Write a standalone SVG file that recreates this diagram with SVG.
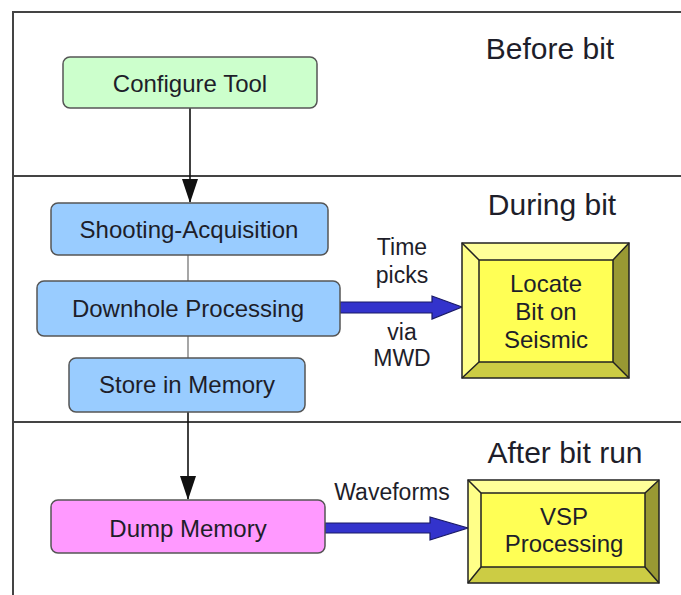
<svg xmlns="http://www.w3.org/2000/svg" width="681" height="595" viewBox="0 0 681 595">
  <style>
    .frame { stroke: #444; stroke-width: 2; fill: none; }
    .box { stroke: #555; stroke-width: 1.5; }
    .txt { font-family: "Liberation Sans", Arial, sans-serif; fill: #1e1e2a; text-anchor: middle; }
    .node { font-size: 24px; }
    .head { font-size: 30px; }
    .lbl { font-size: 23px; }
    .flow { stroke: #111; stroke-width: 1.6; fill: none; }
    .link { stroke: #777; stroke-width: 1.3; fill: none; }
    .fat { fill: #3333cc; stroke: #1a1a66; stroke-width: 1.2; }
    .bev-top { fill: #ffff99; }
    .bev-left { fill: #ffff88; }
    .bev-right { fill: #999933; }
    .bev-bottom { fill: #cccc44; }
    .bev-face { fill: #ffff55; stroke: #222; stroke-width: 1.5; }
    .bev-edge { stroke: #222; stroke-width: 1.5; fill: none; }
  </style>
  <defs>
    <marker id="arrow" markerWidth="24" markerHeight="16" refX="23" refY="8" orient="auto" markerUnits="userSpaceOnUse" viewBox="0 0 24 16">
      <path d="M0,0 L24,8 L0,16 Z" fill="#111"/>
    </marker>
  </defs>
  <rect width="681" height="595" fill="#fff"/>

  <!-- phase bands -->
  <g id="frame">
    <path class="frame" d="M13,595 L13,12 L681,12"/>
    <line class="frame" x1="13" y1="176" x2="681" y2="176"/>
    <line class="frame" x1="13" y1="422" x2="681" y2="422"/>
    <text class="txt head" x="550" y="59">Before bit</text>
    <text class="txt head" x="552" y="215">During bit</text>
    <text class="txt head" x="565" y="463">After bit run</text>
  </g>

  <!-- connectors -->
  <g id="connectors">
    <line class="flow" x1="190" y1="108" x2="190" y2="202" marker-end="url(#arrow)"/>
    <line class="link" x1="188" y1="255" x2="188" y2="281"/>
    <line class="link" x1="188" y1="336" x2="188" y2="358"/>
    <line class="flow" x1="188" y1="412" x2="188" y2="499" marker-end="url(#arrow)"/>
    <path class="fat" d="M340,302 L432,302 L432,296 L462,307 L432,319 L432,313 L340,313 Z"/>
    <path class="fat" d="M325,523 L430,523 L430,517 L468,528 L430,540 L430,533 L325,533 Z"/>
    <text class="txt lbl" x="402" y="255">Time</text>
    <text class="txt lbl" x="402" y="283">picks</text>
    <text class="txt lbl" x="402" y="340">via</text>
    <text class="txt lbl" x="402" y="366">MWD</text>
    <text class="txt lbl" x="392" y="500">Waveforms</text>
  </g>

  <g id="configure-tool">
    <rect class="box" x="63" y="57" width="254" height="51" rx="7" fill="#ccffcc"/>
    <text class="txt node" x="190" y="92">Configure Tool</text>
  </g>

  <g id="shooting-acquisition">
    <rect class="box" x="51" y="203" width="277" height="52" rx="7" fill="#99ccff"/>
    <text class="txt node" x="189" y="238">Shooting-Acquisition</text>
  </g>

  <g id="downhole-processing">
    <rect class="box" x="37" y="281" width="303" height="55" rx="7" fill="#99ccff"/>
    <text class="txt node" x="188" y="317">Downhole Processing</text>
  </g>

  <g id="store-in-memory">
    <rect class="box" x="69" y="358" width="236" height="54" rx="7" fill="#99ccff"/>
    <text class="txt node" x="187" y="393">Store in Memory</text>
  </g>

  <g id="dump-memory">
    <rect class="box" x="51" y="500" width="274" height="53" rx="7" fill="#ff99ff"/>
    <text class="txt node" x="188" y="537">Dump Memory</text>
  </g>

  <g id="locate-bit">
    <polygon class="bev-top" points="462,243 629,243 613,260 479,260"/>
    <polygon class="bev-left" points="462,243 479,260 479,362 462,378"/>
    <polygon class="bev-right" points="629,243 629,378 613,362 613,260"/>
    <polygon class="bev-bottom" points="462,378 479,362 613,362 629,378"/>
    <rect class="bev-face" x="479" y="260" width="134" height="102"/>
    <rect class="bev-edge" x="462" y="243" width="167" height="135"/>
    <path class="bev-edge" d="M462,243 L479,260 M629,243 L613,260 M462,378 L479,362 M629,378 L613,362"/>
    <text class="txt node" x="546" y="292">Locate</text>
    <text class="txt node" x="546" y="320">Bit on</text>
    <text class="txt node" x="546" y="348">Seismic</text>
  </g>

  <g id="vsp-processing">
    <polygon class="bev-top" points="468,480 659,480 645,493 481,493"/>
    <polygon class="bev-left" points="468,480 481,493 481,567 468,583"/>
    <polygon class="bev-right" points="659,480 659,583 645,567 645,493"/>
    <polygon class="bev-bottom" points="468,583 481,567 645,567 659,583"/>
    <rect class="bev-face" x="481" y="493" width="164" height="74"/>
    <rect class="bev-edge" x="468" y="480" width="191" height="103"/>
    <path class="bev-edge" d="M468,480 L481,493 M659,480 L645,493 M468,583 L481,567 M659,583 L645,567"/>
    <text class="txt node" x="564" y="525">VSP</text>
    <text class="txt node" x="564" y="552">Processing</text>
  </g>
</svg>
